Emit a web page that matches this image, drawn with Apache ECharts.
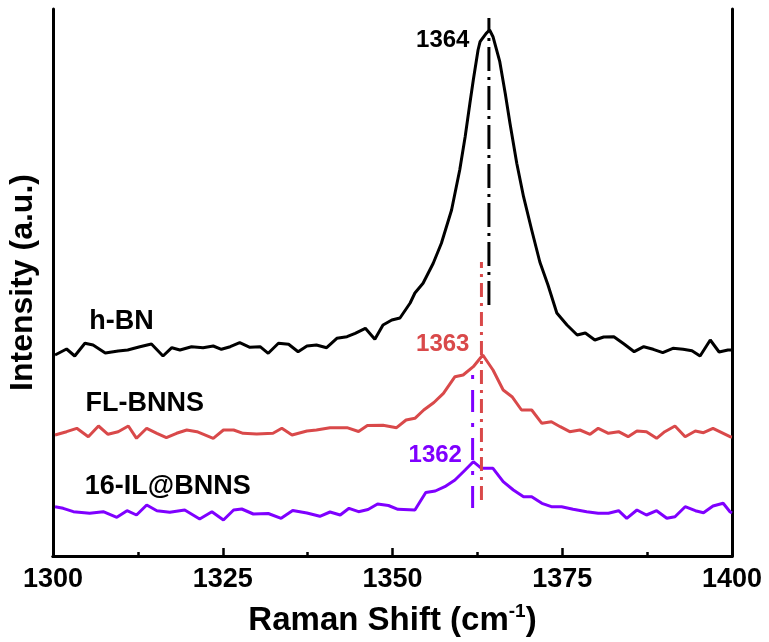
<!DOCTYPE html>
<html>
<head>
<meta charset="utf-8">
<script src="https://cdn.jsdelivr.net/npm/echarts@6/dist/echarts.min.js"></script>
<style>html,body{margin:0;padding:0;background:#fff}#c{width:769px;height:642px}</style>
</head>
<body>
<div id="c"></div>
<script>
// Raman shift (cm-1) and intensity (a.u.) for each sample
const bnX = [1300.3,1302.0,1303.2,1304.7,1305.9,1307.7,1309.6,1311.0,1312.8,1314.5,1316.2,1317.5,1318.7,1320.4,1322.1,1323.6,1324.8,1326.1,1327.5,1329.0,1330.5,1331.7,1333.2,1334.7,1336.1,1337.4,1338.8,1340.3,1341.8,1343.3,1344.5,1346.0,1347.4,1348.6,1349.9,1351.1,1352.6,1353.3,1354.5,1356.0,1357.2,1358.7,1359.9,1360.7,1361.4,1361.9,1362.6,1362.9,1363.8,1364.3,1364.8,1365.8,1366.6,1367.3,1368.3,1369.3,1370.5,1371.7,1372.9,1374.2,1375.7,1377.2,1378.4,1379.8,1381.1,1382.6,1384.1,1385.6,1387.0,1388.4,1389.8,1391.3,1392.8,1394.1,1395.3,1396.8,1398.1,1399.4,1400.0];
const bnY = [201,207,200,212.7,211,203,205,206,209.3,212,200,208.3,206,209.3,208.3,210,206.7,209.3,213.3,208.7,209.3,202.7,212.7,211.7,204.3,210,211,208.3,217.7,219.3,222.7,227.7,216.7,231,236,238,253,263,272.7,292.7,312.7,346,386,419.3,452.7,476,506,514.3,522.7,526,519.3,494.3,462.7,432.7,392.7,359.3,326,294,271,243,231,221,223,216,219,219.3,212,204.3,209.3,206.7,203.3,207.7,206.7,205.3,200,216,204,206,206];

const flX = [1300.3,1302.0,1303.5,1305.2,1306.7,1308.1,1309.6,1311.1,1312.3,1313.8,1315.3,1316.7,1318.2,1319.7,1321.2,1323.6,1325.1,1326.6,1328.0,1330.0,1332.4,1333.7,1335.2,1337.4,1338.8,1340.8,1343.3,1345.0,1346.3,1348.6,1350.6,1352.0,1353.3,1354.6,1356.1,1357.5,1359.2,1360.4,1361.9,1363.3,1364.8,1366.3,1367.6,1369.0,1370.5,1372.0,1373.4,1374.7,1376.1,1377.6,1379.1,1380.3,1381.8,1383.3,1384.7,1386.0,1387.4,1388.9,1390.1,1391.6,1393.1,1394.6,1395.8,1397.2,1399.7,1400.0];
const flY = [121,124.3,127.7,119.3,130,121.7,124.3,130,117.7,127.7,122.7,118.3,122.7,126,124.3,117.7,126,126,122.7,122,122.7,127.7,121,125,126,128.3,128.3,124.5,130.5,130.7,128.3,136,137.7,146,153.5,162.7,179.3,181,189.3,201,186,166,159.3,146,146,132.7,134.3,129.3,124.3,126,121.7,127.7,122.7,124.3,119.3,125,124.3,117.7,124.3,130,119.3,125,123.3,127.7,119.3,119];

const ilX = [1300.3,1301.5,1303.0,1305.4,1307.4,1309.4,1310.9,1312.3,1313.8,1315.3,1317.2,1319.4,1321.6,1323.4,1325.1,1326.6,1327.8,1329.5,1331.7,1333.6,1335.3,1337.4,1339.3,1340.8,1342.3,1343.6,1345.0,1346.4,1347.8,1349.4,1350.8,1353.3,1354.9,1356.3,1357.7,1359.2,1360.7,1361.9,1363.1,1364.8,1366.3,1367.8,1369.3,1370.5,1372.0,1373.4,1374.9,1376.6,1378.6,1380.3,1381.8,1383.3,1384.5,1386.0,1387.4,1388.9,1390.4,1391.6,1393.1,1394.6,1395.8,1397.2,1398.7,1399.7,1400.0];
const ilY = [49.3,47.7,44.3,42.7,44.3,38.7,45.3,41,51,45.3,43.7,46,37,44.3,36,46,47,42,42.5,37.7,45.5,43,39.7,44,41,47.7,44.3,46.5,52,50.5,46.7,46,63.5,65,69.3,76,86,94.3,87.7,87.7,74.3,66,59.3,59.3,52.7,49.3,49.3,46.7,44.3,42.7,42.7,45.3,37.7,46,41,45.3,37.7,39.3,49.3,45.3,43.3,50,52.7,44.3,43];

// peak marker lines: position and vertical extent
const peakNames = ['1364','1363','1362'];
const peakX = [1364.2,1363.1,1361.8];
const peakLow = [251,56,48];
const peakHigh = [538,294,181];

// text labels (position in data units)
const seriesNames = ['h-BN','FL-BNNS','16-IL@BNNS'];
const nameX = [1310.1,1313.5,1316.9];
const nameY = [234,152.5,69.5];
const peakLabelX = [1357.4,1357.4,1356.3];
const peakLabelY = [515.5,212,101];

const xTicks = [1300,1325,1350,1375,1400];

const colors = ['#000000','#d9494a','#7f00ff'];
const dashes = [[24,6,3,6],[14,6,3,6],[22,11,4,11]];
const FONT = '"Liberation Sans", Arial, sans-serif';

const zip = (a,b) => a.map((v,i)=>[v,b[i]]);
const curves = [zip(bnX,bnY), zip(flX,flY), zip(ilX,ilY)];

const series = [];
curves.forEach((d,i)=>{
  series.push({type:'line', data:d, symbol:'none', lineStyle:{color:colors[i], width:3}, z:3, silent:true});
});
peakX.forEach((x,i)=>{
  series.push({type:'line', data:[[x,peakLow[i]],[x,peakHigh[i]]], symbol:'none',
    lineStyle:{color:colors[i], width:3, type:dashes[i]}, z:4, silent:true});
});
function textSeries(txt, x, y, color, size){
  return {type:'scatter', symbolSize:1, data:[[x,y]], silent:true, z:5,
    itemStyle:{opacity:0},
    label:{show:true, position:'inside', formatter:txt, color:color, opacity:1,
      fontSize:size, fontWeight:'bold', fontFamily:FONT}};
}
seriesNames.forEach((n,i)=>{ series.push(textSeries(n, nameX[i], nameY[i], '#000', 27)); });
peakNames.forEach((n,i)=>{ series.push(textSeries(n, peakLabelX[i], peakLabelY[i], colors[i], 24)); });

const chart = echarts.init(document.getElementById('c'), null, {renderer:'canvas'});
chart.setOption({
  animation:false,
  backgroundColor:'#fff',
  grid:{left:53, right:37, top:9, bottom:86, containLabel:false, outerBoundsMode:'none'},
  xAxis:[{
    type:'value', min:xTicks[0], max:xTicks[xTicks.length-1], interval:25,
    axisLine:{show:true, lineStyle:{color:'#000', width:3}},
    axisTick:{show:true, inside:true, length:8, lineStyle:{color:'#000', width:2.5}},
    minorTick:{show:true, splitNumber:2, length:4, lineStyle:{color:'#000', width:2.5}},
    splitLine:{show:false},
    axisLabel:{color:'#000', fontSize:27, fontWeight:'bold', fontFamily:FONT, margin:10,
      formatter:(v)=>String(v)},
    name:'{a|Raman Shift (cm}{s|-1}{a|)}', nameLocation:'middle', nameGap:46,
    nameTextStyle:{rich:{
      a:{fontSize:33, fontWeight:'bold', fontFamily:FONT, color:'#000', lineHeight:38},
      s:{fontSize:19, fontWeight:'bold', fontFamily:FONT, color:'#000', lineHeight:38, verticalAlign:'top'}
    }}
  },{
    type:'value', position:'top', min:xTicks[0], max:xTicks[xTicks.length-1],
    axisLine:{show:true, lineStyle:{color:'#000', width:3}},
    axisTick:{show:false}, axisLabel:{show:false}, splitLine:{show:false}
  }],
  yAxis:[{
    type:'value', min:0, max:547,
    axisLine:{show:true, lineStyle:{color:'#000', width:3}},
    axisTick:{show:false}, axisLabel:{show:false}, splitLine:{show:false},
    name:'Intensity (a.u.)', nameLocation:'middle', nameGap:14,
    nameTextStyle:{fontSize:32, fontWeight:'bold', fontFamily:FONT, color:'#000'}
  },{
    type:'value', position:'right', min:0, max:547,
    axisLine:{show:true, lineStyle:{color:'#000', width:3}},
    axisTick:{show:false}, axisLabel:{show:false}, splitLine:{show:false}
  }],
  series: series
});
</script>
</body>
</html>
